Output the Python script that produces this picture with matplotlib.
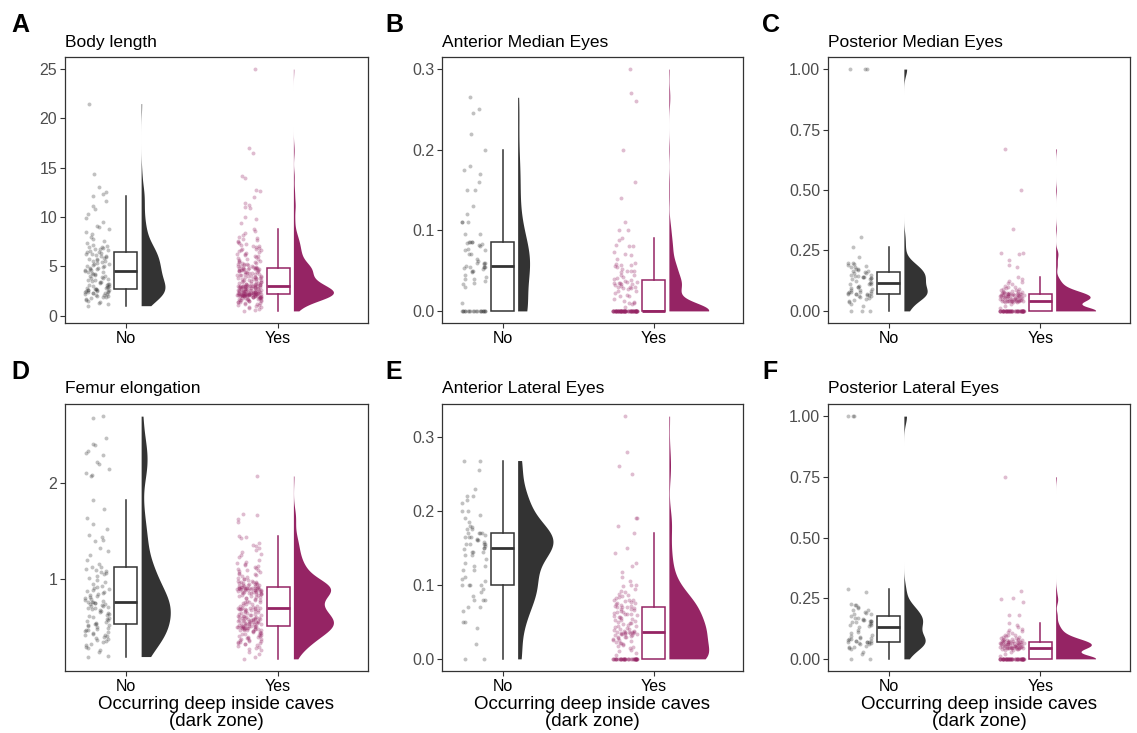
import numpy as np
import matplotlib.pyplot as plt
from matplotlib.patches import Rectangle

plt.rcParams['font.family'] = ['Liberation Sans', 'DejaVu Sans']

# categorias del eje x
grupos = ['No', 'Yes']

# Body length
body_no = [1.0, 1.2, 1.3, 1.4, 1.5, 1.6, 1.7, 1.8, 1.85, 1.9, 2.0, 2.0, 2.05, 2.1, 2.15,
           2.2, 2.25, 2.3, 2.3, 2.35, 2.4, 2.4, 2.45, 2.5, 2.5, 2.55, 2.6, 2.6, 2.62, 2.65,
           2.68, 2.7, 2.75, 2.8, 2.85, 2.9, 2.95, 3.0, 3.05, 3.1, 3.2, 3.25, 3.3, 3.4, 3.45,
           3.5, 3.6, 3.65, 3.7, 3.8, 3.85, 3.9, 4.0, 4.05, 4.1, 4.2, 4.25, 4.3, 4.4, 4.45,
           4.55, 4.6, 4.65, 4.7, 4.75, 4.8, 4.85, 4.9, 5.0, 5.05, 5.1, 5.2, 5.25, 5.3, 5.4,
           5.5, 5.55, 5.6, 5.7, 5.75, 5.8, 5.9, 6.0, 6.05, 6.1, 6.2, 6.25, 6.3, 6.4, 6.45,
           6.5, 6.6, 6.7, 6.8, 6.9, 7.0, 7.0, 7.1, 7.2, 7.4, 7.6, 7.8, 8.0, 8.3, 8.5,
           8.8, 9.0, 9.1, 9.5, 9.9, 10.3, 10.8, 11.1, 11.6, 12.08, 12.3, 12.55, 13.0, 14.4, 21.5]
body_yes = [0.47, 0.55, 0.65, 0.75, 0.85, 0.9, 1.0, 1.05, 1.1, 1.15, 1.2, 1.25, 1.3, 1.35, 1.4,
            1.42, 1.45, 1.5, 1.52, 1.55, 1.58, 1.6, 1.62, 1.65, 1.68, 1.7, 1.72, 1.74, 1.76, 1.78,
            1.8, 1.82, 1.84, 1.86, 1.88, 1.9, 1.91, 1.92, 1.94, 1.95, 1.96, 1.98, 2.0, 2.0, 2.01,
            2.02, 2.03, 2.04, 2.05, 2.06, 2.07, 2.08, 2.09, 2.1, 2.1, 2.11, 2.12, 2.12, 2.13, 2.13,
            2.14, 2.14, 2.15, 2.15, 2.15,
            2.16, 2.17, 2.18, 2.19, 2.2, 2.21, 2.22, 2.23, 2.24, 2.25, 2.26, 2.27, 2.28, 2.29, 2.3,
            2.31, 2.32, 2.33, 2.34, 2.35, 2.37, 2.38, 2.4, 2.41, 2.42, 2.44, 2.45, 2.47, 2.48, 2.5,
            2.52, 2.53, 2.55, 2.57, 2.58, 2.6, 2.62, 2.64, 2.66, 2.68, 2.7, 2.72, 2.74, 2.76, 2.78,
            2.8, 2.82, 2.84, 2.86, 2.88, 2.9, 2.91, 2.92, 2.93, 2.94, 2.95, 2.96, 2.97, 2.98, 2.99,
            3.0, 3.0, 3.01, 3.02, 3.03,
            3.04, 3.06, 3.08, 3.1, 3.12, 3.15, 3.18, 3.2, 3.22, 3.25, 3.28, 3.3, 3.33, 3.36, 3.4,
            3.43, 3.46, 3.5, 3.53, 3.56, 3.6, 3.63, 3.66, 3.7, 3.73, 3.76, 3.8, 3.83, 3.86, 3.9,
            3.93, 3.96, 4.0, 4.03, 4.06, 4.1, 4.13, 4.16, 4.2, 4.23, 4.26, 4.3, 4.33, 4.36, 4.4,
            4.43, 4.46, 4.5, 4.53, 4.56, 4.6, 4.62, 4.64, 4.66, 4.68, 4.7, 4.72, 4.74, 4.76, 4.78,
            4.8, 4.81, 4.82, 4.83, 4.84,
            4.9, 4.95, 5.0, 5.05, 5.05, 5.1, 5.15, 5.2, 5.2, 5.25, 5.3, 5.35, 5.4, 5.45, 5.5,
            5.55, 5.6, 5.7, 5.75, 5.8, 5.9, 6.0, 6.05, 6.1, 6.2, 6.25, 6.3, 6.4, 6.5, 6.6,
            6.6, 6.7, 6.8, 6.9, 7.0, 7.05, 7.1, 7.2, 7.3, 7.4, 7.5, 7.6, 7.7, 7.8, 7.9,
            8.0, 8.2, 8.4, 8.6, 8.75, 9.4, 9.8, 10.0, 10.9, 11.0, 11.2, 11.4, 12.0, 12.6, 12.7,
            14.0, 14.2, 16.5, 17.0, 25.0]

# Anterior Median Eyes
ame_no = [0.0] * 20 + [
    0.01, 0.03, 0.033, 0.035, 0.037, 0.04, 0.04, 0.042, 0.045, 0.048, 0.05, 0.05, 0.052,
    0.053, 0.054, 0.055, 0.055, 0.055,
    0.056, 0.058, 0.06, 0.06, 0.06, 0.062, 0.065, 0.07, 0.07, 0.075, 0.075, 0.077, 0.08,
    0.082, 0.083, 0.084, 0.085, 0.085, 0.085,
    0.085, 0.095, 0.095, 0.11, 0.11, 0.11, 0.12, 0.13, 0.15, 0.15, 0.16, 0.17, 0.175, 0.18,
    0.2, 0.22, 0.245, 0.25, 0.265]
ame_yes = [0.0] * 72 + [
    0.005, 0.008, 0.01, 0.01, 0.011, 0.012, 0.015, 0.018, 0.019, 0.02, 0.022, 0.025, 0.025,
    0.027, 0.028, 0.029, 0.03, 0.03, 0.03, 0.031, 0.032, 0.033, 0.034, 0.035, 0.035, 0.035,
    0.036, 0.036, 0.037,
    0.038, 0.04, 0.041, 0.042, 0.044, 0.045, 0.048, 0.05, 0.05, 0.05, 0.052, 0.055, 0.056,
    0.057, 0.057, 0.058, 0.06, 0.065, 0.069, 0.071, 0.073, 0.08, 0.081, 0.082, 0.088, 0.09,
    0.1, 0.1, 0.11, 0.14, 0.16, 0.2, 0.26, 0.27, 0.3]

# Posterior Median Eyes
pme_no = [0.0, 0.0, 0.0, 0.02, 0.03, 0.035, 0.04, 0.045, 0.05, 0.055, 0.058, 0.06, 0.062,
          0.065, 0.065, 0.068, 0.068, 0.07,
          0.07, 0.072, 0.075, 0.078, 0.08, 0.08, 0.082, 0.085, 0.088, 0.09, 0.095, 0.1, 0.1,
          0.105, 0.11, 0.11, 0.113,
          0.117, 0.12, 0.125, 0.13, 0.13, 0.135, 0.135, 0.14, 0.14, 0.14, 0.145, 0.145, 0.15,
          0.15, 0.155, 0.158, 0.16,
          0.163, 0.165, 0.17, 0.175, 0.175, 0.18, 0.18, 0.185, 0.19, 0.195, 0.2, 0.2, 0.225,
          0.265, 0.305, 1.0, 1.0, 1.0]
pme_yes = [0.0] * 55 + [
    0.01, 0.02, 0.03, 0.035, 0.037, 0.038, 0.039, 0.04, 0.04, 0.041, 0.041, 0.041, 0.042,
    0.042, 0.042, 0.042, 0.042,
    0.043, 0.044, 0.045, 0.046, 0.047, 0.048, 0.049, 0.05, 0.05, 0.05, 0.051, 0.052, 0.053,
    0.054, 0.055, 0.056, 0.057, 0.058, 0.059, 0.06, 0.06, 0.06, 0.061, 0.062, 0.063, 0.063,
    0.064, 0.065, 0.065, 0.066, 0.067, 0.067, 0.068, 0.068, 0.069, 0.069,
    0.07, 0.071, 0.071, 0.072, 0.073, 0.074, 0.075, 0.076, 0.077, 0.078, 0.08, 0.082, 0.083,
    0.085, 0.088, 0.09, 0.092, 0.095, 0.097, 0.1, 0.105, 0.11, 0.115, 0.12, 0.125, 0.13,
    0.14, 0.18, 0.19, 0.21, 0.235, 0.24, 0.24, 0.34, 0.5, 0.67]

# Femur elongation
femur_no = [0.2, 0.21, 0.25, 0.27, 0.29, 0.3, 0.32, 0.33, 0.35, 0.36, 0.37, 0.38, 0.39, 0.4,
            0.41, 0.42, 0.42, 0.43, 0.44, 0.45, 0.46, 0.47, 0.48, 0.49, 0.5, 0.51, 0.52, 0.525,
            0.53,
            0.535, 0.54, 0.55, 0.56, 0.57, 0.58, 0.59, 0.6, 0.61, 0.62, 0.63, 0.64, 0.65, 0.66,
            0.67, 0.68, 0.69, 0.7, 0.7, 0.71, 0.72, 0.72, 0.73, 0.74, 0.74, 0.75, 0.75, 0.76,
            0.762,
            0.77, 0.78, 0.79, 0.8, 0.81, 0.82, 0.83, 0.84, 0.85, 0.86, 0.87, 0.88, 0.89, 0.9,
            0.91, 0.92, 0.93, 0.95, 0.97, 0.99, 1.01, 1.03, 1.05, 1.07, 1.08, 1.09, 1.1, 1.11,
            1.125,
            1.13, 1.16, 1.2, 1.25, 1.29, 1.32, 1.4, 1.41, 1.44, 1.46, 1.52, 1.57, 1.64, 1.73,
            1.82, 2.07, 2.08, 2.1, 2.14, 2.19, 2.21, 2.29, 2.31, 2.33, 2.39, 2.4, 2.46, 2.67, 2.69]
femur_yes = [0.176, 0.2, 0.23, 0.25, 0.27, 0.28, 0.29, 0.3, 0.31, 0.32, 0.33, 0.335, 0.34,
             0.345, 0.35, 0.355, 0.36, 0.365, 0.37, 0.375, 0.38, 0.385, 0.39, 0.395, 0.4,
             0.405, 0.41, 0.415, 0.42, 0.425, 0.43, 0.435, 0.44, 0.445, 0.45, 0.455, 0.46,
             0.465, 0.47, 0.473, 0.476, 0.479, 0.482, 0.485, 0.488, 0.49, 0.492, 0.494, 0.496,
             0.498, 0.5, 0.502, 0.504, 0.506, 0.508, 0.51, 0.512, 0.514, 0.515, 0.516,
             0.518, 0.52, 0.525, 0.53, 0.532, 0.535, 0.54, 0.542, 0.545, 0.548, 0.55, 0.552,
             0.555, 0.558, 0.56, 0.562, 0.565, 0.568, 0.57, 0.572, 0.575, 0.578, 0.58, 0.582,
             0.585, 0.588, 0.59, 0.592, 0.595, 0.598, 0.6, 0.603, 0.606, 0.61, 0.613, 0.616,
             0.62, 0.623, 0.626, 0.63, 0.635, 0.64, 0.645, 0.65, 0.655, 0.66, 0.665, 0.67,
             0.675, 0.68, 0.683, 0.686, 0.689, 0.691, 0.693, 0.695, 0.697, 0.698, 0.699, 0.7,
             0.7, 0.705, 0.71, 0.72, 0.725, 0.73, 0.74, 0.745, 0.75, 0.76, 0.765, 0.77, 0.78,
             0.785, 0.79, 0.8, 0.805, 0.81, 0.815, 0.82, 0.825, 0.83, 0.835, 0.84, 0.845, 0.85,
             0.852, 0.855, 0.858, 0.86, 0.862, 0.865, 0.868, 0.87, 0.872, 0.875, 0.878, 0.88,
             0.882, 0.885, 0.887, 0.89, 0.892, 0.894, 0.896, 0.898, 0.9, 0.9, 0.902, 0.904,
             0.905, 0.906, 0.907, 0.908, 0.909, 0.91, 0.911, 0.912, 0.914, 0.915,
             0.92, 0.92, 0.925, 0.93, 0.93, 0.935, 0.94, 0.94, 0.945, 0.95, 0.95, 0.955, 0.96,
             0.96, 0.965, 0.97, 0.97, 0.975, 0.98, 0.98, 0.99, 1.0, 1.0, 1.01, 1.02, 1.03, 1.04,
             1.05, 1.06, 1.07, 1.08, 1.09, 1.1, 1.1, 1.11, 1.12, 1.13, 1.14, 1.15, 1.16, 1.17,
             1.18, 1.2, 1.23, 1.25, 1.26, 1.28, 1.3, 1.32, 1.34, 1.36, 1.38, 1.43, 1.435, 1.45,
             1.59, 1.62, 1.67, 1.68, 2.07]

# Anterior Lateral Eyes
ale_no = [0.0, 0.0, 0.02, 0.042, 0.05, 0.05, 0.065, 0.07, 0.07, 0.08, 0.08, 0.08, 0.085, 0.09,
          0.095, 0.1, 0.1, 0.1,
          0.1, 0.105, 0.108, 0.11, 0.12, 0.12, 0.125, 0.125, 0.13, 0.135, 0.14, 0.14, 0.145,
          0.145, 0.145, 0.148, 0.15,
          0.15, 0.152, 0.155, 0.155, 0.155, 0.155, 0.158, 0.16, 0.16, 0.162, 0.165, 0.165,
          0.165, 0.168, 0.17, 0.17, 0.17,
          0.17, 0.175, 0.175, 0.178, 0.18, 0.185, 0.19, 0.195, 0.2, 0.2, 0.21, 0.215, 0.22,
          0.22, 0.23, 0.255, 0.268, 0.268]
ale_yes = [0.0] * 40 + [
    0.005, 0.008, 0.01, 0.012, 0.015, 0.016, 0.018, 0.019, 0.02, 0.021, 0.022, 0.023, 0.024,
    0.025, 0.026, 0.027, 0.028, 0.029, 0.03, 0.03, 0.031, 0.032, 0.032, 0.033, 0.033, 0.034,
    0.034, 0.035, 0.035, 0.035, 0.035, 0.036, 0.036, 0.036, 0.036,
    0.036, 0.037, 0.038, 0.039, 0.04, 0.041, 0.042, 0.043, 0.044, 0.045, 0.046, 0.047, 0.048,
    0.049, 0.05, 0.051, 0.052, 0.053, 0.054, 0.055, 0.056, 0.057, 0.058, 0.059, 0.06, 0.06,
    0.061, 0.062, 0.063, 0.064, 0.065, 0.066, 0.067, 0.068, 0.069, 0.07, 0.07,
    0.07, 0.071, 0.072, 0.073, 0.074, 0.075, 0.076, 0.077, 0.078, 0.079, 0.08, 0.08, 0.082,
    0.084, 0.085, 0.086, 0.088, 0.09, 0.092, 0.095, 0.098, 0.1, 0.1, 0.105, 0.11, 0.118,
    0.125, 0.13, 0.143, 0.15, 0.17, 0.18, 0.19, 0.19, 0.25, 0.26, 0.28, 0.328]

# Posterior Lateral Eyes
ple_no = [0.0, 0.0, 0.02, 0.03, 0.04, 0.045, 0.05, 0.05, 0.055, 0.06, 0.062, 0.065, 0.065,
          0.068, 0.068, 0.07,
          0.07, 0.072, 0.075, 0.075, 0.078, 0.08, 0.082, 0.085, 0.088, 0.09, 0.095, 0.1,
          0.105, 0.11, 0.12, 0.13,
          0.134, 0.138, 0.14, 0.145, 0.148, 0.15, 0.152, 0.155, 0.155, 0.158, 0.16, 0.16,
          0.165, 0.168, 0.17, 0.175,
          0.183, 0.185, 0.19, 0.195, 0.2, 0.2, 0.21, 0.215, 0.22, 0.22, 0.225, 0.276, 0.288,
          1.0, 1.0, 1.0]
ple_yes = [0.0] * 55 + [
    0.01, 0.02, 0.03, 0.036, 0.038, 0.04, 0.041, 0.042, 0.043, 0.043, 0.044, 0.044, 0.044,
    0.045, 0.045, 0.045, 0.045,
    0.045, 0.046, 0.047, 0.048, 0.049, 0.05, 0.05, 0.05, 0.051, 0.052, 0.053, 0.054, 0.055,
    0.055, 0.056, 0.057, 0.058, 0.059, 0.06, 0.06, 0.06, 0.061, 0.062, 0.063, 0.063, 0.064,
    0.065, 0.065, 0.066, 0.067, 0.067, 0.068, 0.069, 0.069, 0.07, 0.07,
    0.07, 0.071, 0.072, 0.073, 0.074, 0.075, 0.076, 0.077, 0.078, 0.079, 0.08, 0.082, 0.083,
    0.085, 0.088, 0.09, 0.092, 0.095, 0.097, 0.1, 0.1, 0.105, 0.11, 0.115, 0.12, 0.125,
    0.13, 0.14, 0.147, 0.18, 0.18, 0.235, 0.245, 0.25, 0.28, 0.75]

# ticks del eje y de cada panel
ticks_body = [0, 5, 10, 15, 20, 25]
ticks_femur = [1, 2]
ticks_01 = [0.0, 0.1, 0.2, 0.3]
ticks_quarter = [0.0, 0.25, 0.5, 0.75, 1.0]

paneles = [
    ('A', 'Body length', body_no, body_yes, ticks_body, '{:.0f}'),
    ('B', 'Anterior Median Eyes', ame_no, ame_yes, ticks_01, '{:.1f}'),
    ('C', 'Posterior Median Eyes', pme_no, pme_yes, ticks_quarter, '{:.2f}'),
    ('D', 'Femur elongation', femur_no, femur_yes, ticks_femur, '{:.0f}'),
    ('E', 'Anterior Lateral Eyes', ale_no, ale_yes, ticks_01, '{:.1f}'),
    ('F', 'Posterior Lateral Eyes', ple_no, ple_yes, ticks_quarter, '{:.2f}'),
]

colores = ['#333333', '#952464']

W, H = 1137, 733
# cajas de los ejes en pixeles: izquierda, arriba, derecha, abajo
cajas = [(65, 57, 368, 323), (442, 57, 743, 323), (828, 57, 1130, 323),
         (65, 404, 368, 671), (442, 404, 743, 671), (828, 404, 1130, 671)]
letras_x = [11, 385, 762, 11, 385, 762]


def kde(v, grid):
    n = len(v)
    sd = np.std(v, ddof=1)
    q25, q75 = np.percentile(v, [25, 75])
    lo = min(sd, (q75 - q25) / 1.34)
    if lo <= 0:
        lo = sd
    bw = 0.9 * lo * n ** -0.2
    z = (grid[:, None] - v[None, :]) / bw
    return np.exp(-0.5 * z ** 2).sum(axis=1) / (n * bw * np.sqrt(2 * np.pi))


def raincloud(ax, datos):
    curvas = []
    for v in datos:
        v = np.asarray(v, float)
        grid = np.linspace(v.min(), v.max(), 600)
        curvas.append((grid, kde(v, grid)))
    dmax = max(d.max() for g, d in curvas)

    for k, v in enumerate(datos):
        v = np.asarray(v, float)
        x = k + 1
        col = colores[k]
        # puntos con jitter determinista (hash del indice)
        i = np.arange(len(v)) + 7 * k
        jit = (np.sin(i * 12.9898 + 3.7) * 43758.5453) % 1.0 * 2 - 1
        ax.scatter(x - 0.19 + 0.08 * jit, v, s=8, color=col, alpha=0.3,
                   linewidths=0, zorder=2)
        # boxplot sin outliers
        q1, med, q3 = np.percentile(v, [25, 50, 75])
        iqr = q3 - q1
        hi = v[v <= q3 + 1.5 * iqr].max()
        lo = v[v >= q1 - 1.5 * iqr].min()
        ax.add_patch(Rectangle((x - 0.075, q1), 0.15, q3 - q1, facecolor='white',
                               edgecolor=col, linewidth=1.1, zorder=3))
        ax.plot([x - 0.075, x + 0.075], [med, med], color=col, lw=2.0,
                solid_capstyle='butt', zorder=4)
        ax.plot([x, x], [q3, hi], color=col, lw=1.1, zorder=3)
        ax.plot([x, x], [lo, q1], color=col, lw=1.1, zorder=3)
        # medio violin
        grid, d = curvas[k]
        ax.fill_betweenx(grid, x + 0.1, x + 0.1 + 0.263 * d / dmax,
                         color=col, linewidth=0, zorder=2)


fig = plt.figure(figsize=(W / 100, H / 100), dpi=100)

for n, (letra, titulo, d_no, d_yes, ticks, fmt) in enumerate(paneles):
    l, t, r, b = cajas[n]
    ax = fig.add_axes([l / W, 1 - b / H, (r - l) / W, (b - t) / H])
    raincloud(ax, [d_no, d_yes])

    todos = np.concatenate([d_no, d_yes])
    rango = todos.max() - todos.min()
    ax.set_ylim(todos.min() - 0.05 * rango, todos.max() + 0.05 * rango)
    ax.set_xlim(0.6, 2.59)

    ax.set_xticks([1, 2])
    ax.set_xticklabels(grupos, fontsize=11.5, color='black')
    ax.set_yticks(ticks)
    ax.set_yticklabels([fmt.format(tk) for tk in ticks], fontsize=11.5, color='#4D4D4D')
    ax.tick_params(length=3.5, width=0.8, color='#333333', pad=2)
    for s in ax.spines.values():
        s.set_color('#333333')
        s.set_linewidth(0.9)

    fig.text(l / W, 1 - (t - 10.5) / H, titulo, fontsize=12.5, ha='left', va='baseline')
    fig.text(letras_x[n] / W, 1 - (t - 25) / H, letra, fontsize=18, fontweight='bold',
             ha='left', va='baseline')

    if n >= 3:
        ax.set_xlabel('Occurring deep inside caves\n(dark zone)', fontsize=13.5,
                      labelpad=2, linespacing=0.95)

fig.savefig('out.png', dpi=100)
